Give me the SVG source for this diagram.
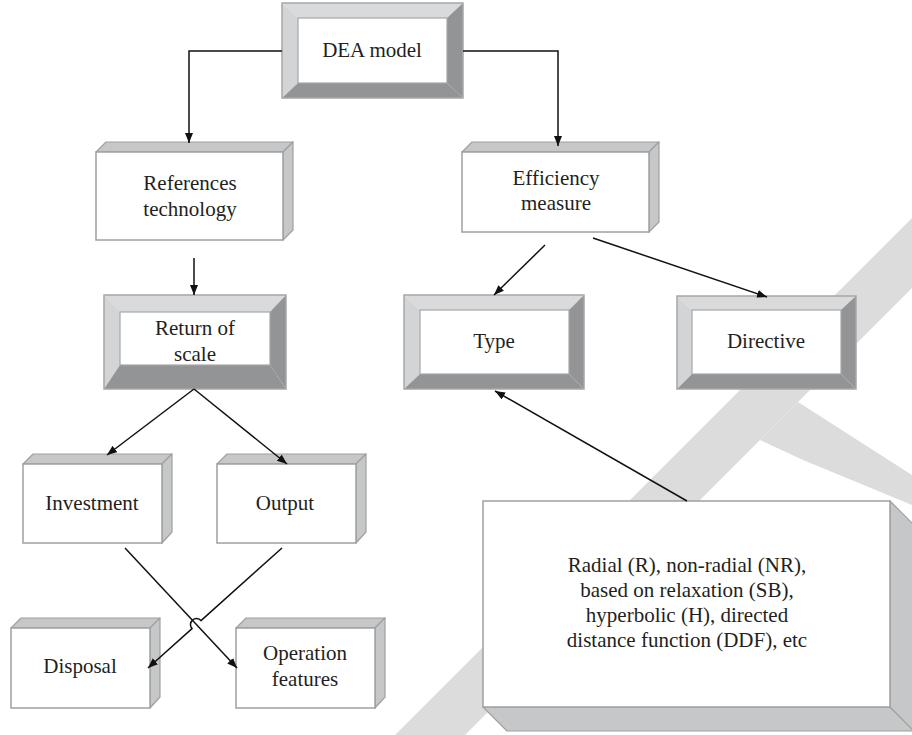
<svg xmlns="http://www.w3.org/2000/svg" width="912" height="735" viewBox="0 0 912 735">
<style>
text{font-family:"Liberation Serif","Times New Roman",serif;font-size:21px;fill:#231f20;text-anchor:middle}
.wm{fill:#dcdcdc}
.bt{fill:#d9dadb}.bl{fill:#d3d4d5}.bd{fill:#939496}
.edge{fill:none;stroke:#a6a7a9;stroke-width:1.5}
.front{fill:#fff;stroke:#a0a0a0;stroke-width:1.5}
.side{fill:#c6c7c8;stroke:#a0a0a0;stroke-width:1.2;stroke-linejoin:round}
.inner{fill:#fff;stroke:#a6a7a9;stroke-width:1.2}
.c{fill:none;stroke:#111;stroke-width:1.5}
</style>
<defs>
<marker id="ah" markerUnits="userSpaceOnUse" markerWidth="12" markerHeight="10" refX="10" refY="4" orient="auto">
<path d="M0,0 L10,4 L0,8 Z" fill="#111"/>
</marker>
</defs>
<rect width="912" height="735" fill="#fff"/>
<g id="watermark">
<polygon class="wm" points="912,218 912,288 465,735 395,735"/>
<polygon class="wm" points="798,402 912,475 912,505 803,460 760,440"/>
</g>

<g id="dea">
<polygon class="bt" points="282,3 463,3 447,18 298,18"/>
<polygon class="bl" points="282,3 298,18 298,83 282,98"/>
<polygon class="bd" points="282,98 298,83 447,83 463,98"/>
<polygon class="bd" points="463,3 463,98 447,83 447,18"/>
<rect class="inner" x="298" y="18" width="149" height="65"/>
<rect class="edge" x="282" y="3" width="181" height="95"/>
<text x="372" y="57">DEA model</text>
</g>

<g id="references">
<polygon class="side" points="96,152 106,142 293,142 283,152"/>
<polygon class="side" points="283,152 293,142 293,230 283,240"/>
<rect class="front" x="96" y="152" width="187" height="88"/>
<text x="190" y="190">References</text>
<text x="190" y="216">technology</text>
</g>

<g id="efficiency">
<polygon class="side" points="462,152 472,142 659,142 649,152"/>
<polygon class="side" points="649,152 659,142 659,222 649,232"/>
<rect class="front" x="462" y="152" width="187" height="80"/>
<text x="556" y="185">Efficiency</text>
<text x="556" y="210">measure</text>
</g>

<g id="return">
<polygon class="bt" points="104,295 286,295 270,312 120,312"/>
<polygon class="bl" points="104,295 120,312 120,365 104,389"/>
<polygon class="bd" points="104,389 120,365 270,365 286,389"/>
<polygon class="bd" points="286,295 286,389 270,365 270,312"/>
<rect class="inner" x="120" y="312" width="150" height="53"/>
<rect class="edge" x="104" y="295" width="182" height="94"/>
<text x="195" y="335">Return of</text>
<text x="195" y="361">scale</text>
</g>

<g id="type">
<polygon class="bt" points="404,295 584,295 569,310 420,310"/>
<polygon class="bl" points="404,295 420,310 420,374 404,389"/>
<polygon class="bd" points="404,389 420,374 569,374 584,389"/>
<polygon class="bd" points="584,295 584,389 569,374 569,310"/>
<rect class="inner" x="420" y="310" width="149" height="64"/>
<rect class="edge" x="404" y="295" width="180" height="94"/>
<text x="494" y="348">Type</text>
</g>

<g id="directive">
<polygon class="bt" points="677,296 856,296 841,310 692,310"/>
<polygon class="bl" points="677,296 692,310 692,374 677,389"/>
<polygon class="bd" points="677,389 692,374 841,374 856,389"/>
<polygon class="bd" points="856,296 856,389 841,374 841,310"/>
<rect class="inner" x="692" y="310" width="149" height="64"/>
<rect class="edge" x="677" y="296" width="179" height="93"/>
<text x="766" y="348">Directive</text>
</g>

<g id="investment">
<polygon class="side" points="23,464 33,454 172,454 162,464"/>
<polygon class="side" points="162,464 172,454 172,532 162,543"/>
<rect class="front" x="23" y="464" width="139" height="79"/>
<text x="92" y="510">Investment</text>
</g>

<g id="output">
<polygon class="side" points="217,464 227,454 366,454 356,464"/>
<polygon class="side" points="356,464 366,454 366,532 356,543"/>
<rect class="front" x="217" y="464" width="139" height="79"/>
<text x="285" y="510">Output</text>
</g>

<g id="disposal">
<polygon class="side" points="11,628 21,618 160,618 150,628"/>
<polygon class="side" points="150,628 160,618 160,697 150,708"/>
<rect class="front" x="11" y="628" width="139" height="80"/>
<text x="80" y="673">Disposal</text>
</g>

<g id="operation">
<polygon class="side" points="236,628 246,618 385,618 375,628"/>
<polygon class="side" points="375,628 385,618 385,697 375,708"/>
<rect class="front" x="236" y="628" width="139" height="80"/>
<text x="305" y="660">Operation</text>
<text x="305" y="686">features</text>
</g>

<g id="measures">
<polygon class="side" points="483,707 890,707 914,731 507,731"/>
<polygon class="side" points="890,501 914,525 914,731 890,707"/>
<rect class="front" x="483" y="501" width="407" height="206"/>
<text x="687" y="572">Radial (R), non-radial (NR),</text>
<text x="687" y="597">based on relaxation (SB),</text>
<text x="687" y="622">hyperbolic (H), directed</text>
<text x="687" y="647">distance function (DDF), etc</text>
</g>

<g id="connectors">
<path class="c" d="M282,51 H189 V143" marker-end="url(#ah)"/>
<path class="c" d="M463,51 H558 V146" marker-end="url(#ah)"/>
<path class="c" d="M194,258 V295" marker-end="url(#ah)"/>
<path class="c" d="M194,389 L107,455" marker-end="url(#ah)"/>
<path class="c" d="M194,389 L287,464" marker-end="url(#ah)"/>
<path class="c" d="M125,548 L237,668" marker-end="url(#ah)"/>
<path class="c" d="M282,548 L201,620.6 A6,6 0 0 0 192,628.6 L148,668" marker-end="url(#ah)"/>
<path class="c" d="M545,245 L494,295" marker-end="url(#ah)"/>
<path class="c" d="M593,238 L767,297" marker-end="url(#ah)"/>
<path class="c" d="M687,501 L495,391" marker-end="url(#ah)"/>
</g>
</svg>
